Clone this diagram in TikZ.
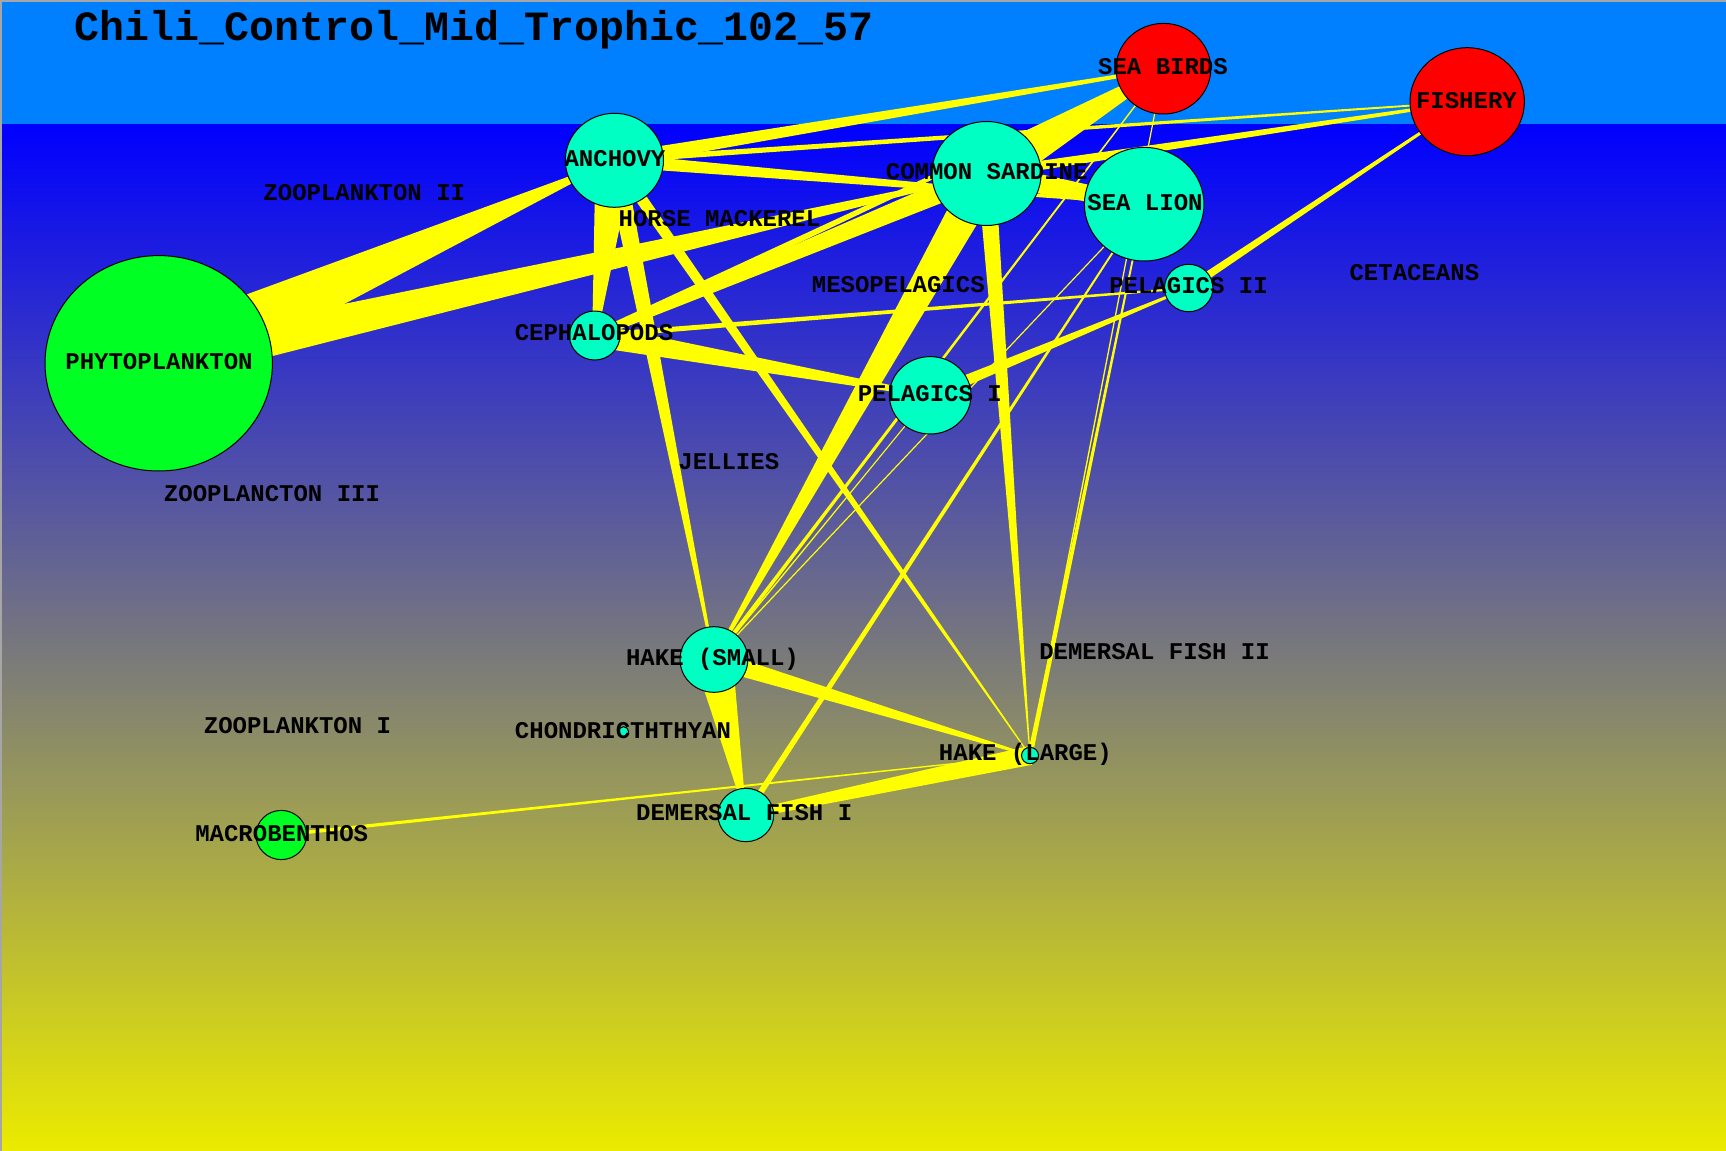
\documentclass[tikz,border=0pt]{standalone}
\usepackage{fontspec}
\usetikzlibrary{shapes.geometric,calc}
\newfontfamily\monofam{Liberation Mono}
\definecolor{aquanode}{RGB}{0,255,195}
\definecolor{greennode}{RGB}{0,255,35}
\definecolor{rednode}{RGB}{255,0,0}
\definecolor{topband}{RGB}{0,128,255}
\definecolor{gradtop}{RGB}{0,0,255}
\definecolor{gradbot}{RGB}{235,235,0}
\definecolor{edgeyellow}{RGB}{255,255,0}
\pgfdeclarelayer{bglayer}
\pgfdeclarelayer{edgelayer}
\pgfsetlayers{bglayer,edgelayer,main}
\tikzset{
  eco/.style={ellipse, draw=black, line width=0.5pt, inner sep=0pt},
  aq/.style={eco, fill=aquanode},
  gr/.style={eco, fill=greennode},
  rd/.style={eco, fill=rednode},
  sz/.style 2 args={minimum width=#1pt, minimum height=#2pt},
  lab/.style={font=\monofam\bfseries\fontsize{12}{14}\selectfont, anchor=base, inner sep=0pt, text=black},
  ttl/.style={font=\monofam\bfseries\fontsize{20.8}{24}\selectfont, anchor=base west, inner sep=0pt, text=black},
  flow/.style={fill=edgeyellow},
}
% tapered connector: #1 from node, #2 to node, #3 width at #1 (px), #4 width at #2 (px)
\newcommand\taperlink[4]{%
  \fill[flow] let \p1=(#1.center), \p2=(#2.center), \n1={atan2(\y2-\y1,\x2-\x1)} in
    ($(\p1)+(\n1+90:#3*0.25pt)$) -- ($(\p2)+(\n1+90:#4*0.25pt)$) --
    ($(\p2)+(\n1-90:#4*0.25pt)$) -- ($(\p1)+(\n1-90:#3*0.25pt)$) -- cycle;}
\begin{document}
\begin{tikzpicture}[x=0.5pt,y=-0.5pt]
\useasboundingbox (0,0) rectangle (1726,1151);
\begin{pgfonlayer}{bglayer}
  \fill[topband] (0,0) rectangle (1726,124);
  \shade[top color=gradtop, bottom color=gradbot] (0,124) rectangle (1726,1151);
  \draw[gray!70, line width=1pt] (1,1151) -- (1,1) -- (1726,1);
\end{pgfonlayer}

% circles
\node[gr, sz={113.7}{107.7}] (PHY) at (158.7,363.3) {};
\node[aq, sz={49.1}{47}]     (ANC) at (614.4,160.3) {};
\node[aq, sz={54.6}{52}]     (SAR) at (986.5,173.5) {};
\node[rd, sz={47.4}{45.3}]   (SBD) at (1163.4,68.7) {};
\node[rd, sz={57.2}{54}]     (FSH) at (1467.2,101.7) {};
\node[aq, sz={59.8}{56.8}]   (SLN) at (1144.2,204.2) {};
\node[aq, sz={24.2}{23.7}]   (PL2) at (1188.7,288) {};
\node[aq, sz={25.3}{24.5}]   (CEP) at (594.7,335.5) {};
\node[aq, sz={40.8}{38.7}]   (PL1) at (930.2,395.3) {};
\node[aq, sz={33.9}{32.8}]   (HKS) at (713.9,659.5) {};
\node[aq, sz={5}{5}]         (CHO) at (623.6,731.7) {};
\node[aq, sz={8.5}{8.2}]     (HKL) at (1030,755.5) {};
\node[aq, sz={27.9}{26.7}]   (DF1) at (745.8,815) {};
\node[gr, sz={25.3}{24.6}]   (MAC) at (281.3,835) {};

% connectors
\begin{pgfonlayer}{edgelayer}
  \taperlink{PHY}{ANC}{69}{1}
  \taperlink{PHY}{SAR}{42}{2}
  \taperlink{ANC}{SBD}{14}{3}
  \taperlink{ANC}{FSH}{6}{1.5}
  \taperlink{ANC}{SLN}{13.5}{1}
  \taperlink{ANC}{CEP}{38}{5}
  \taperlink{ANC}{HKS}{20}{2}
  \taperlink{ANC}{HKL}{12}{1}
  \taperlink{SAR}{SBD}{44}{6}
  \taperlink{SBD}{CEP}{2}{8}
  \taperlink{SAR}{CEP}{22}{7}
  \taperlink{SAR}{FSH}{10}{2.5}
  \taperlink{SAR}{SLN}{22}{14}
  \taperlink{SAR}{HKS}{36}{2}
  \taperlink{SAR}{HKL}{18}{0.8}
  \taperlink{SBD}{HKS}{1.2}{4}
  \taperlink{SBD}{HKL}{1.2}{1.5}
  \taperlink{SLN}{HKS}{1.2}{1.2}
  \taperlink{SLN}{DF1}{1.5}{6}
  \taperlink{SLN}{HKL}{1.5}{5}
  \taperlink{CEP}{PL1}{23}{4}
  \taperlink{CEP}{PL2}{5.5}{2}
  \taperlink{PL1}{PL2}{12}{2}
  \taperlink{PL1}{HKS}{1}{1.5}
  \taperlink{FSH}{PL2}{2}{8}
  \taperlink{HKS}{HKL}{18}{2}
  \taperlink{HKS}{DF1}{38}{1}
  \taperlink{HKL}{DF1}{19}{8}
  \taperlink{MAC}{HKL}{3.5}{1}
\end{pgfonlayer}

% labels
\node[ttl] (title) at (74.6,40) {Chili\_Control\_Mid\_Trophic\_102\_57};
\node[lab] (tSBD) at (1163,74) {SEA BIRDS};
\node[lab] (tFSH) at (1466.4,108.3) {FISHERY};
\node[lab] (tANC) at (615,166.7) {ANCHOVY};
\node[lab] (tSAR) at (986.7,179.3) {COMMON SARDINE};
\node[lab] (tSLN) at (1145,210.5) {SEA LION};
\node[lab] (tZ2) at (364.3,200.4) {ZOOPLANKTON II};
\node[lab] (tHM) at (719.5,226) {HORSE MACKEREL};
\node[lab] (tCET) at (1414.4,280) {CETACEANS};
\node[lab] (tMES) at (898.3,292.7) {MESOPELAGICS};
\node[lab] (tPL2) at (1188.5,293) {PELAGICS II};
\node[lab] (tCEP) at (594,340.7) {CEPHALOPODS};
\node[lab] (tPHY) at (159,369.3) {PHYTOPLANKTON};
\node[lab] (tPL1) at (929.8,401.5) {PELAGICS I};
\node[lab] (tJEL) at (728.8,469) {JELLIES};
\node[lab] (tZ3) at (272,501.7) {ZOOPLANCTON III};
\node[lab] (tDF2) at (1154.5,659.3) {DEMERSAL FISH II};
\node[lab] (tHKS) at (712.5,665) {HAKE (SMALL)};
\node[lab] (tZ1) at (297.5,733.3) {ZOOPLANKTON I};
\node[lab] (tCHO) at (623,738) {CHONDRICTHTHYAN};
\node[lab] (tHKL) at (1025.4,760) {HAKE (LARGE)};
\node[lab] (tDF1) at (744.2,820.5) {DEMERSAL FISH I};
\node[lab] (tMAC) at (281.7,841) {MACROBENTHOS};
\end{tikzpicture}
\end{document}
